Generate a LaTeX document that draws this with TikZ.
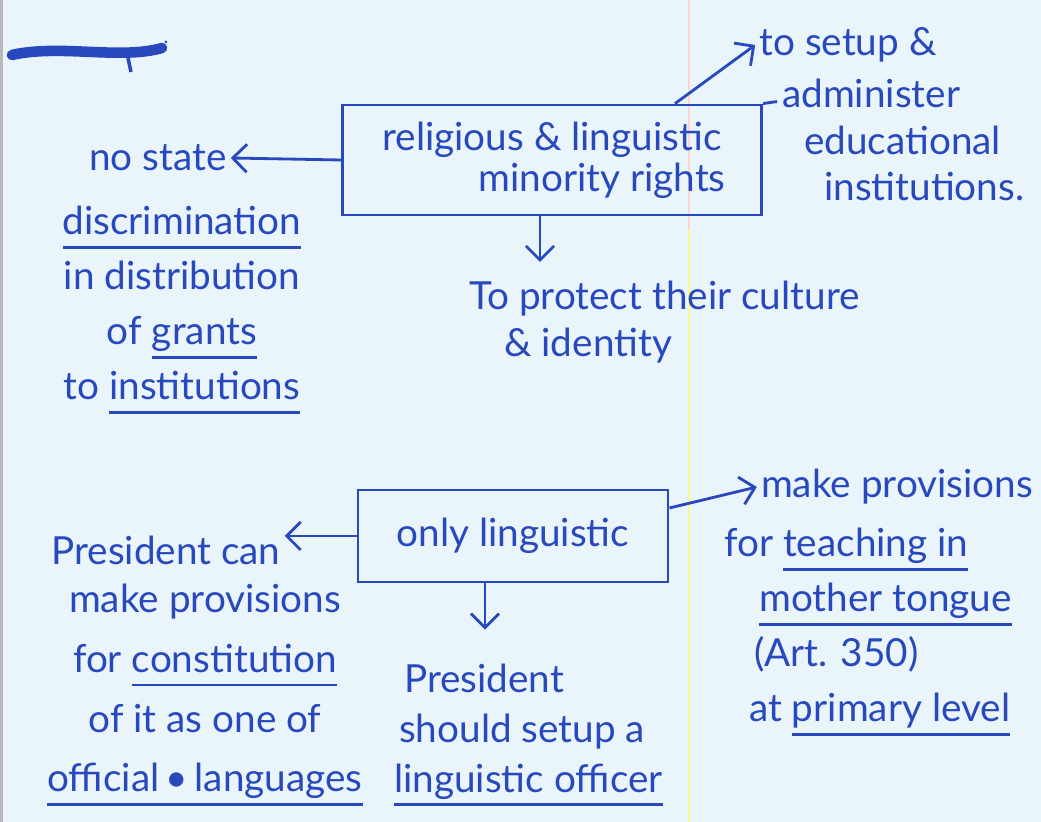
\documentclass[tikz,border=0pt]{standalone}
\usepackage{fontspec}
\setmainfont{Lato}
\usetikzlibrary{arrows.meta, positioning}

\definecolor{ink}{RGB}{40,72,190}
\definecolor{paper}{RGB}{233,244,251}
% hand drawn underline
\newcommand{\hul}[1]{\sbox0{#1}\rlap{\rule[-4pt]{\wd0}{0.8pt}}\usebox0}

\begin{document}
\begin{tikzpicture}[
          x=0.01cm, y=-0.01cm,
          font=\fontsize{11}{15.6}\selectfont,
          txt/.style={text=ink, inner sep=1pt},
          box/.style={draw=ink, text=ink, line width=0.8pt, inner sep=3pt, align=center},
          arrow/.style={-{Straight Barb[length=1.4mm, width=2.8mm]}, draw=ink, line width=0.8pt}
        ]

        % -------- Paper --------
        \fill[paper] (0,0) rectangle (1041,822);
        \useasboundingbox (0,0) rectangle (1041,822);
        \fill[gray!55] (0,0) rectangle (3,822);
        \draw[pink!70, line width=0.6pt] (689,0) -- (689,230);
        \draw[yellow!45, line width=0.6pt] (689,230) -- (689,822);

        % crossed out heading
        \draw[ink, line width=3pt, line cap=round] (12,55) .. controls (60,44) and (120,60) .. (162,48);
        \draw[ink, line width=1pt] (128,58) -- (131,72);
        \fill[ink] (166,42) circle (1.5);

        % -------- Religious and linguistic --------
        \node[box, minimum width=4.19cm, minimum height=1.1cm] (relg) at (552,160)
          {religious \& linguistic\\[-4pt]\hspace*{1cm}minority rights};
        \draw[ink, line width=0.8pt] (relg.north east) -- ++(14,-2);

        \node[txt] (nostate) at (158,158) {no state};
        \node[txt, align=center] (discr) at (182,310)
          {\hul{discrimination}\\in distribution\\of \hul{grants}\\to \hul{institutions}};

        \node[txt] (tosetup) at (848,45) {to setup \&};
        \node[txt, align=left, anchor=west, font=\fontsize{11}{13.2}\selectfont] (admin) at (778,140)
          {administer\\\hspace*{0.22cm}educational\\\hspace*{0.42cm}institutions.};

        \node[txt, align=left, anchor=west, font=\fontsize{11}{13.2}\selectfont] (protect) at (465,322)
          {To protect their culture\\\hspace*{0.35cm}\& identity};

        % -------- Only linguistic --------
        \node[box, minimum width=3.1cm, minimum height=0.92cm] (lang) at (513,536) {only linguistic};

        \node[txt] (mkprov) at (897,487) {make provisions};
        \node[txt, align=left, anchor=west] (teach) at (720,632)
          {for \hul{teaching in}\\\hspace*{0.35cm}\hul{mother tongue}\\\hspace*{0.3cm}(Art. 350)\\\hspace*{0.25cm}at \hul{primary level}};

        \node[txt] (prescan) at (166,550) {President can};
        \node[txt, align=center, font=\fontsize{11}{17}\selectfont] (provleft) at (205,695)
          {make provisions\\for \hul{constitution}\\of it as one of\\\hul{official\,\textbullet\,languages}};

        \node[txt, align=left, anchor=west, font=\fontsize{11}{14.2}\selectfont] (offc) at (390,735)
          {\hspace*{0.1cm}President\\\hspace*{0.05cm}should setup a\\\hul{linguistic officer}};

        % -------- Arrows --------
        \draw[arrow] (relg.west) -- (nostate.east);
        \draw[arrow] ([xshift=1.23cm]relg.north) -- (tosetup.west);
        \draw[arrow, shorten >=1.5mm] ([xshift=-0.12cm]relg.south) -- ([xshift=-0.12cm]relg.south |- protect.north);

        \draw[arrow] (lang.west) -- (lang.west -| prescan.east);
        \draw[arrow] ([yshift=0.28cm]lang.east) -- (mkprov.west);
        \draw[arrow, shorten >=3mm] ([xshift=-0.28cm]lang.south) -- ([xshift=-0.28cm]lang.south |- offc.north);

      \end{tikzpicture}
\end{document}
